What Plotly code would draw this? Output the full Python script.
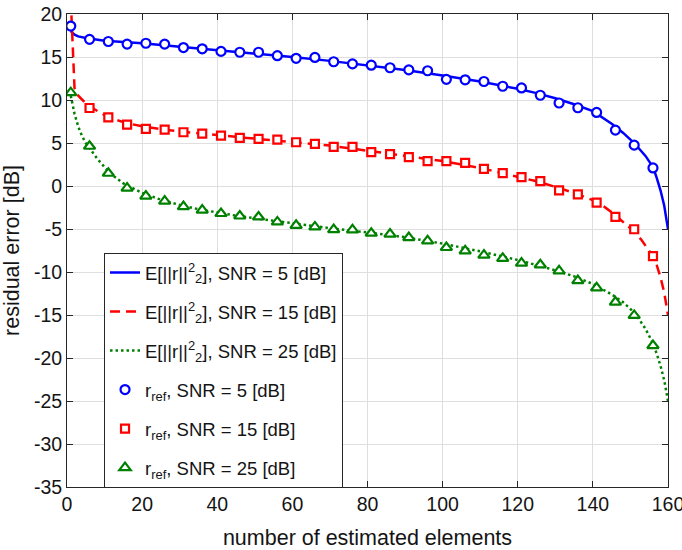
import plotly.graph_objects as go

# ---- data ----
k_ref = [1, 6, 11, 16, 21, 26, 31, 36, 41, 46, 51, 56, 61, 66, 71, 76,
         81, 86, 91, 96, 101, 106, 111, 116, 121, 126, 131, 136, 141, 146, 151, 156]
ref_snr5 = [18.6, 17.05, 16.8, 16.5, 16.6, 16.5, 16.1, 15.95, 15.65, 15.55, 15.55, 15.15,
            14.85, 14.95, 14.45, 14.2, 14.05, 13.75, 13.5, 13.4, 12.4, 12.35, 12.15, 11.6,
            11.4, 10.55, 9.65, 9.1, 8.55, 6.5, 4.75, 2.1]
ref_snr15 = [21.5, 9.07, 7.98, 7.14, 6.64, 6.56, 6.25, 6.1, 5.86, 5.6, 5.48, 5.4,
             5.09, 4.9, 4.55, 4.55, 3.95, 3.7, 3.35, 2.89, 2.89, 2.7, 2.0, 1.5,
             1.03, 0.57, -0.5, -0.97, -1.94, -3.58, -5.03, -8.15]
ref_snr25 = [10.85, 4.62, 1.48, -0.25, -1.17, -1.75, -2.4, -2.8, -3.2, -3.49, -3.6, -4.18,
             -4.57, -4.76, -5.07, -5.1, -5.49, -5.6, -6.0, -6.38, -7.15, -7.54, -8.04, -8.42,
             -8.97, -9.16, -9.86, -11.0, -11.85, -13.5, -15.05, -18.55]

k_e5 = [1, 2, 3, 5, 10, 20, 30, 40, 50, 60, 70, 80, 90, 100, 110, 120, 125, 130, 135,
        140, 145, 148, 151, 154, 156, 157, 158, 159, 160]
e_snr5 = [18.0, 17.6, 17.4, 17.2, 16.9, 16.6, 16.2, 15.8, 15.45, 15.0, 14.55, 14.05, 13.5,
          12.85, 12.15, 11.3, 10.8, 10.2, 9.5, 8.7, 7.25, 6.2, 5.0, 3.5, 2.2, 0.95, -0.5,
          -2.3, -5.0]

k_e15 = [1, 2, 3, 4, 5, 6, 8, 10, 13, 16, 20, 25, 30, 40, 50, 60, 70, 80, 90, 100, 110,
         120, 125, 130, 135, 140, 143, 146, 149, 151, 153, 155, 156, 157, 158, 159, 160]
e_snr15 = [21.7, 11.4, 10.5, 10.0, 9.6, 9.25, 8.7, 8.25, 7.7, 7.3, 6.95, 6.6, 6.35, 5.9,
           5.5, 5.1, 4.7, 4.1, 3.5, 2.9, 2.1, 1.1, 0.55, -0.1, -0.8, -1.65, -2.4, -3.4,
           -4.5, -5.3, -6.3, -7.5, -8.2, -9.2, -10.6, -12.4, -15.0]

k_e25 = [1, 2, 3, 4, 5, 6, 8, 10, 12, 15, 18, 20, 25, 30, 35, 40, 45, 50, 60, 70, 80, 90,
         100, 110, 120, 130, 135, 140, 145, 148, 150, 152, 154, 156, 157, 158, 159, 160]
e_snr25 = [10.5, 8.4, 6.9, 5.8, 5.0, 4.4, 3.2, 2.2, 1.3, 0.3, -0.4, -0.8, -1.6, -2.2, -2.7,
           -3.1, -3.45, -3.75, -4.35, -4.9, -5.4, -5.95, -6.7, -7.6, -8.6, -9.8, -10.5,
           -11.4, -12.6, -13.5, -14.3, -15.3, -16.6, -18.3, -19.5, -20.9, -22.6, -25.0]

x_ticks = [0, 20, 40, 60, 80, 100, 120, 140, 160]
y_ticks = [20, 15, 10, 5, 0, -5, -10, -15, -20, -25, -30, -35]

BLUE = "rgb(0,0,255)"
RED = "rgb(255,0,0)"
GREEN = "rgb(0,128,0)"
FONT = "Liberation Sans, Arial, sans-serif"
TXT = "rgb(20,20,20)"
E_LABEL = "E[||r||<sup>2</sup><sub>2</sub>], SNR = {} [dB]"
R_LABEL = "r<sub>ref</sub>, SNR = {} [dB]"

fig = go.Figure()

fig.add_trace(go.Scatter(x=k_e5, y=e_snr5, mode="lines", name=E_LABEL.format(5),
                         legendgroup="a", line=dict(color=BLUE, width=2.5)))
fig.add_trace(go.Scatter(x=k_e15, y=e_snr15, mode="lines", name=E_LABEL.format(15),
                         legendgroup="b", line=dict(color=RED, width=2.5, dash="10px,6px")))
fig.add_trace(go.Scatter(x=k_e25, y=e_snr25, mode="lines", name=E_LABEL.format(25),
                         legendgroup="c", line=dict(color=GREEN, width=2.5, dash="2.5px,3px")))

fig.add_trace(go.Scatter(x=k_ref, y=ref_snr5, mode="markers", name=R_LABEL.format(5),
                         legendgroup="d",
                         marker=dict(symbol="circle", size=9, color="white",
                                     line=dict(color=BLUE, width=2.2))))
fig.add_trace(go.Scatter(x=k_ref, y=ref_snr15, mode="markers", name=R_LABEL.format(15),
                         legendgroup="e",
                         marker=dict(symbol="square", size=8, color="white",
                                     line=dict(color=RED, width=2.2))))
fig.add_trace(go.Scatter(x=k_ref, y=ref_snr25, mode="markers", name=R_LABEL.format(25),
                         legendgroup="f",
                         marker=dict(symbol="triangle-up", size=10, color="white",
                                     line=dict(color=GREEN, width=2.2))))

axis_common = dict(
    showline=True, linecolor="rgb(38,38,38)", linewidth=1, mirror="ticks",
    ticks="inside", ticklen=6, tickcolor="rgb(38,38,38)",
    showgrid=True, gridcolor="rgb(223,223,223)", gridwidth=1,
    zeroline=False, automargin=False, ticklabeloverflow="allow",
    tickfont=dict(family=FONT, size=19.5, color=TXT),
)

fig.update_xaxes(range=[0, 160], tickvals=x_ticks, ticktext=[str(v) for v in x_ticks],
                 title=dict(text="number of estimated elements",
                            font=dict(family=FONT, size=21.5, color=TXT)),
                 **axis_common)
fig.update_yaxes(range=[-35, 20], tickvals=y_ticks, ticktext=[str(v) for v in y_ticks],
                 title=dict(text="residual error [dB]",
                            font=dict(family=FONT, size=21.5, color=TXT)),
                 **axis_common)

fig.update_layout(
    width=682, height=550,
    margin=dict(l=67, r=14, t=14, b=63),
    paper_bgcolor="white", plot_bgcolor="white",
    showlegend=True,
    legend=dict(x=0.0616, y=0.495, xanchor="left", yanchor="top",
                bgcolor="white", bordercolor="rgb(38,38,38)", borderwidth=1,
                font=dict(family=FONT, size=18.5, color=TXT),
                itemwidth=30, tracegroupgap=12),
)

# remove the default 8px page margin so the figure fills the window exactly
fig.write_html("out.html",
               config={"displayModeBar": False},
               post_script="document.body.style.margin='0px';document.body.style.overflow='hidden';")
